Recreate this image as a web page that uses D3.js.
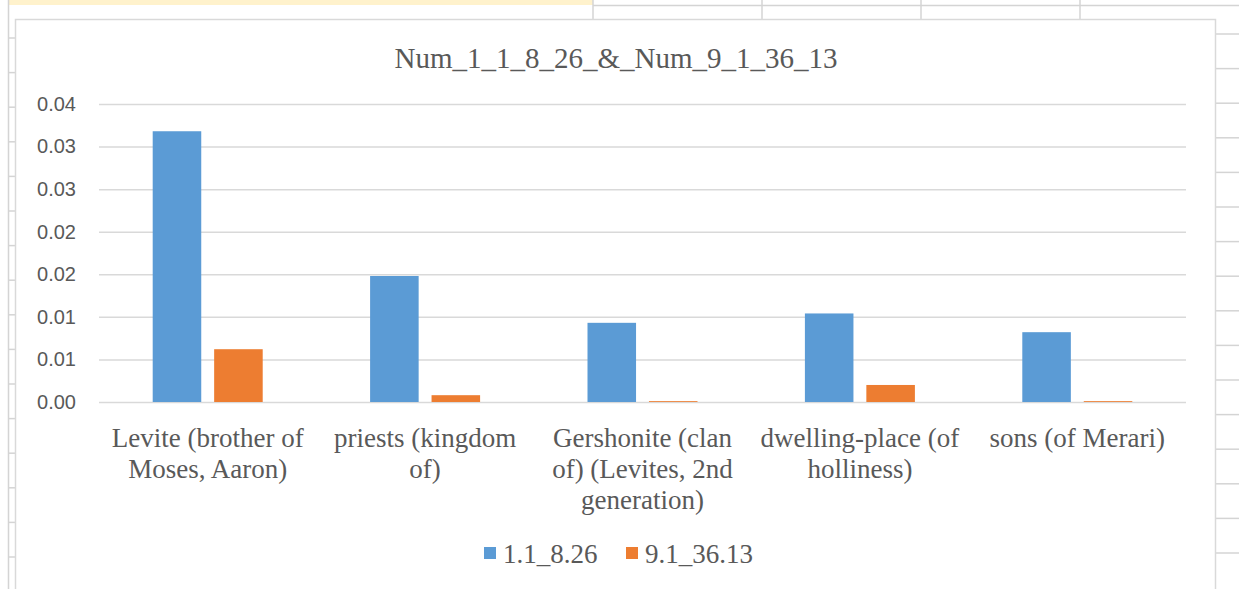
<!DOCTYPE html>
<html><head><meta charset="utf-8">
<script src="https://cdn.jsdelivr.net/npm/d3@7"></script>
<style>body{margin:0;background:#fff;}svg{display:block;}</style>
</head><body>
<svg id="c" width="1239" height="589"></svg>
<script>
const categories = [
  ["Levite (brother of", "Moses, Aaron)"],
  ["priests (kingdom", "of)"],
  ["Gershonite (clan", "of) (Levites, 2nd", "generation)"],
  ["dwelling-place (of", "holliness)"],
  ["sons (of Merari)"]
];
const seriesNames = ["1.1_8.26", "9.1_36.13"];
const series1 = [0.0318, 0.0148, 0.0093, 0.0104, 0.0082];
const series2 = [0.0062, 0.0008, 0.0001, 0.0020, 0.0001];
const tickValues = [0, 0.005, 0.01, 0.015, 0.02, 0.025, 0.03, 0.035];
const tickLabels = ["0.00", "0.01", "0.01", "0.02", "0.02", "0.03", "0.03", "0.04"];
const title = "Num_1_1_8_26_&_Num_9_1_36_13";
const colors = ["#5b9bd5", "#ed7d31"];

const SERIF = "Liberation Serif";
const SANS = "Liberation Sans";

const svg = d3.select("#c");
const W = 1239, H = 589;

// spreadsheet background
const bg = svg.append("g");
bg.append("rect").attr("x", 8).attr("y", 0).attr("width", 585).attr("height", 5).attr("fill", "#fff2cc");
bg.append("line").attr("x1", 593).attr("x2", W).attr("y1", 5.5).attr("y2", 5.5).attr("stroke", "#d4d4d4").attr("stroke-width", 1.5);
[593, 762, 921, 1080].forEach(x => bg.append("line").attr("x1", x).attr("x2", x).attr("y1", 0).attr("y2", 19).attr("stroke", "#d4d4d4").attr("stroke-width", 1.5));
bg.append("line").attr("x1", 8.5).attr("x2", 8.5).attr("y1", 0).attr("y2", H).attr("stroke", "#d4d4d4").attr("stroke-width", 1.5);
for (let yy = 38; yy < H; yy += 34.6) {
  bg.append("line").attr("x1", 8).attr("x2", 15).attr("y1", yy).attr("y2", yy).attr("stroke", "#d4d4d4").attr("stroke-width", 1.5);
  bg.append("line").attr("x1", 1216).attr("x2", W).attr("y1", yy - 4).attr("y2", yy - 4).attr("stroke", "#d4d4d4").attr("stroke-width", 1.5);
}

// chart area
svg.append("rect").attr("x", 15.5).attr("y", 19.5).attr("width", 1200).attr("height", 600)
  .attr("fill", "#fff").attr("stroke", "#d9d9d9").attr("stroke-width", 1.5);

const pL = 99, pR = 1186, pT = 104, pB = 402;
const y = d3.scaleLinear().domain([0, 0.035]).range([pB, pT]);
const x0 = d3.scaleBand().domain(d3.range(categories.length)).range([pL, pR]).padding(0);
const bw = x0.bandwidth();
const x1 = d3.scaleBand().domain(d3.range(seriesNames.length)).range([bw / 2 - 55, bw / 2 + 55]).paddingInner(0.21).paddingOuter(0);

// gridlines
const yAxis = d3.axisLeft(y).tickValues(tickValues).tickSize(-(pR - pL)).tickFormat((d, i) => tickLabels[i]).tickPadding(23);
const ga = svg.append("g").attr("transform", `translate(${pL},0)`).call(yAxis);
ga.select(".domain").remove();
ga.attr("font-family", SANS).attr("font-size", 20);
ga.selectAll(".tick line").attr("stroke", "#d9d9d9").attr("stroke-width", 1.5);
ga.selectAll(".tick text").attr("fill", "#595959");

// bars
const data = [series1, series2];
data.forEach((vals, si) => {
  svg.append("g").selectAll("rect").data(vals).join("rect")
    .attr("x", (d, i) => x0(i) + x1(si))
    .attr("y", d => y(d))
    .attr("width", x1.bandwidth())
    .attr("height", d => y(0) - y(d))
    .attr("fill", colors[si]);
});

// category labels
const xl = svg.append("g").attr("font-family", SERIF).attr("font-size", 27);
categories.forEach((lines, i) => {
  const t = xl.append("text").attr("x", x0(i) + bw / 2).attr("y", 447)
    .attr("text-anchor", "middle").attr("fill", "#595959");
  lines.forEach((ln, k) => t.append("tspan").attr("x", x0(i) + bw / 2).attr("dy", k === 0 ? 0 : 31).text(ln));
});

// title
svg.append("text").attr("x", 616).attr("y", 68).attr("text-anchor", "middle").attr("fill", "#595959")
  .attr("font-family", SERIF).attr("font-size", 29).text(title);

// legend
const lg = svg.append("g").attr("font-family", SERIF).attr("font-size", 27);
const lx = [484, 626];
seriesNames.forEach((n, i) => {
  lg.append("rect").attr("x", lx[i]).attr("y", 547).attr("width", 12).attr("height", 12).attr("fill", colors[i]);
  lg.append("text").attr("x", lx[i] + 19).attr("y", 563).attr("fill", "#595959").text(n);
});
</script>
</body></html>
